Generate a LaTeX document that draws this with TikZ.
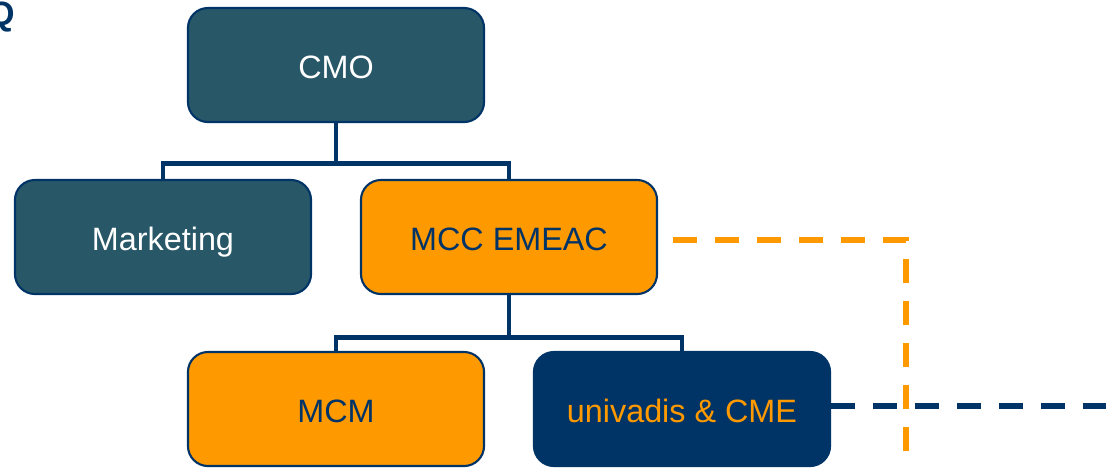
\documentclass[tikz,border=0pt]{standalone}
\usepackage{fontspec}
\setmainfont{Liberation Sans}
\usetikzlibrary{calc}
\usetikzlibrary{positioning}

\definecolor{mcknavy}{HTML}{003366}
\definecolor{mckteal}{HTML}{285868}
\definecolor{mckorange}{HTML}{FF9900}

\begin{document}
\begin{tikzpicture}[
      x=0.025cm, y=-0.025cm,
      every node/.style={font=\fontsize{23}{27}\selectfont},
      unit/.style={rectangle, rounded corners=0.5cm, draw=mcknavy, line width=1.5pt,
                   minimum width=7.4cm, minimum height=2.85cm, inner sep=0pt,
                   text height=19.5pt, text depth=0pt},
      tealunit/.style={unit, fill=mckteal, text=white},
      orangeunit/.style={unit, fill=mckorange, text=mcknavy},
      navyunit/.style={unit, fill=mcknavy, text=mckorange},
      link/.style={draw=mcknavy, line width=3.5pt},
      dotted link/.style={line width=4.2pt, dash pattern=on 0.6cm off 0.45cm}
    ]
    \useasboundingbox (0,0) rectangle (1106,468);

    % caixas
    \node[tealunit] (cmo) at (336,65) {CMO};
    \node[tealunit] (marketing) at (163,237) {Marketing};
    \node[orangeunit] (mcc) at (509,237) {MCC EMEAC};
    \node[orangeunit] (mcm) at (336,409) {MCM};
    \node[navyunit] (univadis) at (682,409) {univadis \& CME};

    % título cortado
    \node[anchor=base east, inner sep=0pt, text=mcknavy,
          font=\fontsize{24}{28}\selectfont\bfseries] (title) at (15,25) {Q};

    % ligações
    \draw[link] (cmo.south) -- ++(0,40) -| (marketing.north);
    \draw[link] (cmo.south) -- ++(0,40) -| (mcc.north);
    \draw[link] (mcc.south) -- ++(0,42) -| (mcm.north);
    \draw[link] (mcc.south) -- ++(0,42) -| (univadis.north);

    % linhas tracejadas
    \coordinate (navyend) at (1106,406);
    \coordinate (turn) at (906,240);
    \coordinate (orangeend) at (906,470);
    \draw[dotted link, draw=mcknavy] (univadis.east |- navyend) -- (navyend);
    \draw[dotted link, draw=mckorange] ([xshift=0.375cm]mcc.east |- turn) -- (turn) -- (orangeend);
  \end{tikzpicture}
\end{document}
